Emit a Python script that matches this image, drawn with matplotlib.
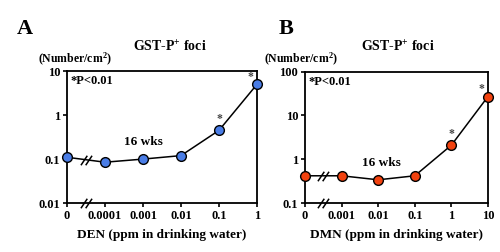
import numpy as np
import matplotlib
matplotlib.use("Agg")
import matplotlib.pyplot as plt
from matplotlib.path import Path

plt.rcParams['font.family'] = ['Liberation Serif', 'DejaVu Serif']
plt.rcParams['font.weight'] = 'bold'
plt.rcParams['axes.labelweight'] = 'bold'
plt.rcParams['mathtext.fontset'] = 'custom'
plt.rcParams['mathtext.rm'] = 'Liberation Serif:bold'
plt.rcParams['mathtext.it'] = 'Liberation Serif:bold'
plt.rcParams['mathtext.bf'] = 'Liberation Serif:bold'

# panel A: DEN
den_labels = ['0', '0.0001', '0.001', '0.01', '0.1', '1']
den_foci = [0.11, 0.085, 0.1, 0.12, 0.45, 5.0]
den_sig = [False, False, False, False, True, True]

# panel B: DMN
dmn_labels = ['0', '0.001', '0.01', '0.1', '1', '10']
dmn_foci = [0.42, 0.42, 0.34, 0.42, 2.1, 27.0]
dmn_sig = [False, False, False, False, True, True]

brk = Path([(-1.4, -1.2), (0.2, 1.2), (-0.2, -1.2), (1.4, 1.2)],
           [Path.MOVETO, Path.LINETO, Path.MOVETO, Path.LINETO])


def panel(ax, labels, vals, sig, color, ylim, yticks, yticklabels, xlabel):
    x = np.arange(len(vals))
    ax.plot(x, vals, '-', color='black', lw=1.1, zorder=2)
    ax.plot(x, vals, 'o', ms=7, mfc=color, mec='black', mew=1.0,
            clip_on=False, zorder=3)
    ax.set_yscale('log')
    ax.set_ylim(*ylim)
    ax.set_xlim(0, len(vals) - 1)
    ax.set_yticks(yticks)
    ax.set_yticklabels(yticklabels)
    ax.yaxis.set_minor_locator(matplotlib.ticker.NullLocator())
    ax.set_xticks(x)
    ax.set_xticklabels(labels)
    ax.tick_params(direction='out', length=3, width=1.2, labelsize=9, pad=2)
    for s in ax.spines.values():
        s.set_linewidth(1.3)
    for xi, v, s in zip(x, vals, sig):
        if s:
            off = (-5, 1) if xi == x[-1] else (0, 4)
            ax.annotate('*', (xi, v), xytext=off, textcoords='offset points',
                        ha='center', va='bottom', fontsize=8.5, color='#444444',
                        annotation_clip=False, zorder=5)
    # break marks
    ymid = np.sqrt(vals[0] * vals[1])
    ax.plot([0.5], [ymid], marker=brk, ms=8, mec='black', mew=1.1, zorder=4)
    ax.plot([0.5], [ylim[0]], marker=brk, ms=8, mec='black', mew=1.1,
            clip_on=False, zorder=4)
    ax.text(0.02, 0.97, '*P<0.01', transform=ax.transAxes, ha='left', va='top',
            fontsize=9)
    ax.set_xlabel(xlabel, fontsize=9.5, labelpad=5)


fig = plt.figure(figsize=(5, 2.52), dpi=100)
axA = fig.add_axes([0.134, 0.194, 0.38, 0.524])
axB = fig.add_axes([0.61, 0.194, 0.366, 0.522])

panel(axA, den_labels, den_foci, den_sig, '#4a7de6', (0.01, 10),
      [0.01, 0.1, 1, 10], ['0.01', '0.1', '1', '10'],
      'DEN (ppm in drinking water)')
panel(axB, dmn_labels, dmn_foci, dmn_sig, '#f2420f', (0.1, 100),
      [0.1, 1, 10, 100], ['0.1', '1', '10', '100'],
      'DMN (ppm in drinking water)')

axA.text(2.0, 0.24, '16 wks', ha='center', va='center', fontsize=9.5)
axB.text(2.1, 0.82, '16 wks', ha='center', va='center', fontsize=9.5)

fig.text(0.034, 0.885, 'A', fontsize=16, ha='left', va='center')
fig.text(0.558, 0.885, 'B', fontsize=16, ha='left', va='center')
fig.text(0.34, 0.815, 'GST-P$^{+}$ foci', fontsize=10, ha='center', va='center')
fig.text(0.796, 0.815, 'GST-P$^{+}$ foci', fontsize=10, ha='center', va='center')
fig.text(0.149, 0.765, '(Number/cm$^{2}$)', fontsize=8.5, ha='center', va='center')
fig.text(0.601, 0.765, '(Number/cm$^{2}$)', fontsize=8.5, ha='center', va='center')

fig.savefig('out.png', dpi=100)
